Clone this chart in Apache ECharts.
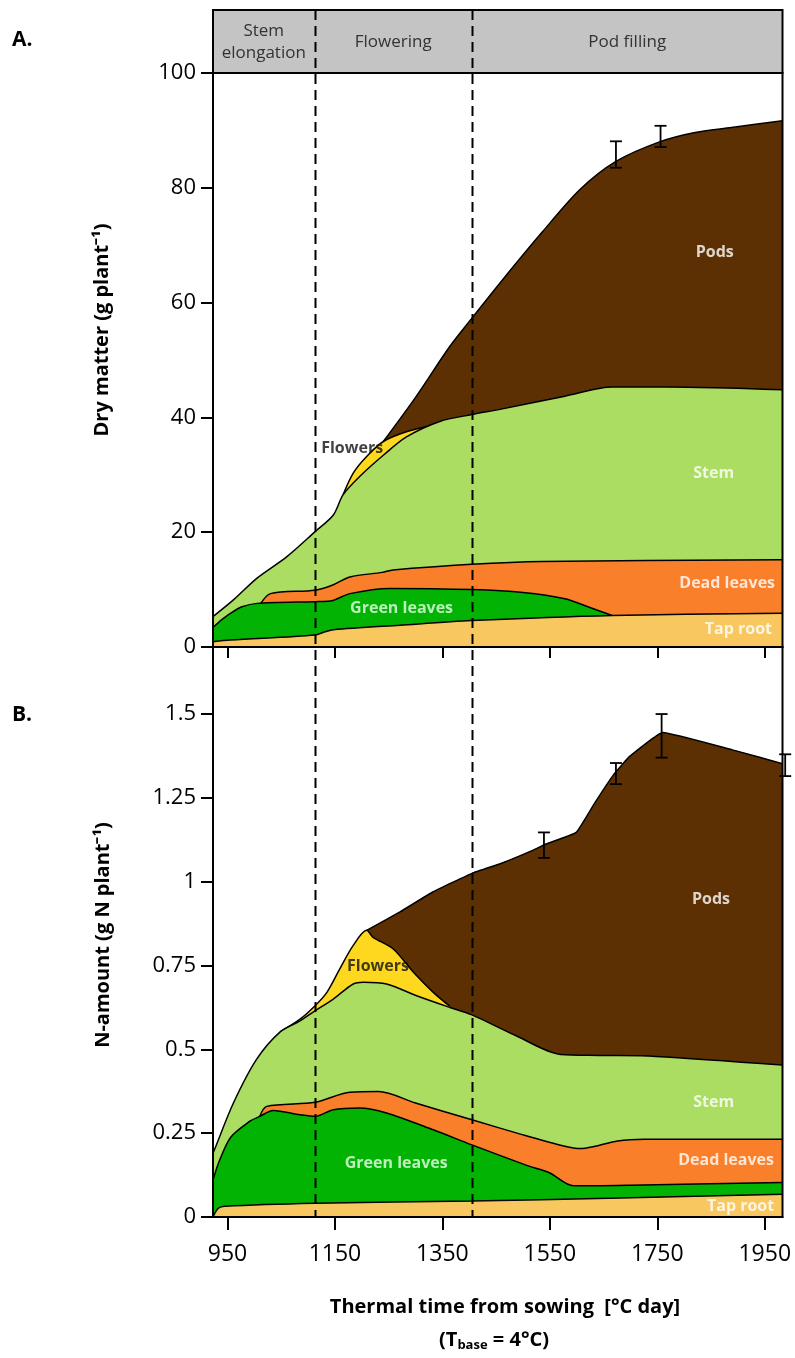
<!DOCTYPE html>
<html><head><meta charset="utf-8">
<script src="https://cdn.jsdelivr.net/npm/echarts@6/dist/echarts.min.js"></script>
<style>html,body{margin:0;padding:0;background:#fff}#c{width:795px;height:1358px}</style>
</head><body><div id="c"></div>
<script>
// ---------- DATA ----------
const xTicks = [950, 1150, 1350, 1550, 1750, 1950];
const xRange = [923, 1983];
const phaseBounds = [923, 1112, 1405, 1983];
const phaseNames = ['Stem\nelongation', 'Flowering', 'Pod filling'];
const yTicksA = [0, 20, 40, 60, 80, 100];
const yTicksB = [0, 0.25, 0.5, 0.75, 1, 1.25, 1.5];

// Panel A: dry matter, cumulative upper boundary of each layer (g plant-1)
const aTapRoot = [[923,0.9],[955,1.2],[1113,2.1],[1130,2.6],[1147,3.0],[1271,3.8],[1404,4.6],[1666,5.5],[1983,5.9]];
const aGreenLeaves = [[923,3.4],[940,4.8],[956,5.9],[977,7.0],[1005,7.6],[1113,7.9],[1141,8.0],[1178,9.3],[1252,10.2],[1405,10.0],[1500,9.5],[1578,8.4],[1627,6.8],[1666,5.5]];
const aDeadLeaves = [[1012,7.6],[1030,9.3],[1113,9.9],[1146,10.8],[1178,12.2],[1238,13.0],[1258,13.4],[1404,14.4],[1535,14.9],[1983,15.2]];
const aStem = [[923,5.3],[961,8.2],[1005,12.0],[1060,15.7],[1113,20.1],[1147,23.0],[1165,26.5],[1196,29.7],[1240,33.4],[1283,36.6],[1345,39.3],[1405,40.5],[1457,41.4],[1578,43.7],[1666,45.3],[1768,45.3],[1983,44.8]];
const aFlowers = [[1165,26.5],[1184,30.3],[1209,33.2],[1240,35.8],[1283,37.5],[1330,38.6]];
const aPods = [[1240,35.8],[1300,43.5],[1364,52.4],[1405,57.3],[1464,64.2],[1535,72.2],[1606,79.7],[1673,84.6],[1754,88.0],[1818,89.6],[1888,90.5],[1983,91.7]];
const aErrors = [[1673,83.5,88.1],[1756,87.1,90.8]];

// Panel B: N amount, cumulative upper boundary of each layer (g N plant-1)
const bTapRoot = [[923,0],[933,0.026],[945,0.032],[1112,0.041],[1405,0.048],[1660,0.056],[1983,0.068]];
const bGreenLeaves = [[923,0.11],[934,0.164],[956,0.238],[991,0.285],[1010,0.30],[1035,0.318],[1085,0.305],[1113,0.30],[1147,0.32],[1196,0.325],[1246,0.31],[1333,0.26],[1405,0.215],[1507,0.154],[1549,0.132],[1594,0.093],[1700,0.095],[1983,0.103]];
const bDeadLeaves = [[1010,0.30],[1023,0.33],[1113,0.342],[1178,0.372],[1231,0.374],[1300,0.34],[1405,0.29],[1500,0.245],[1578,0.211],[1606,0.204],[1634,0.211],[1676,0.227],[1726,0.232],[1983,0.232]];
const bStem = [[923,0.19],[927,0.206],[961,0.34],[1004,0.47],[1048,0.552],[1085,0.585],[1113,0.615],[1147,0.65],[1184,0.695],[1203,0.70],[1246,0.695],[1302,0.66],[1364,0.625],[1405,0.603],[1488,0.54],[1570,0.485],[1643,0.482],[1747,0.479],[1983,0.453]];
const bFlowers = [[1048,0.552],[1085,0.59],[1113,0.63],[1135,0.67],[1159,0.74],[1184,0.81],[1209,0.855],[1221,0.834],[1258,0.80],[1296,0.73],[1333,0.67],[1364,0.628]];
const bPods = [[1209,0.855],[1271,0.91],[1333,0.97],[1405,1.025],[1460,1.055],[1520,1.095],[1539,1.11],[1599,1.147],[1634,1.236],[1669,1.32],[1698,1.373],[1760,1.445],[1888,1.394],[1983,1.352]];
const bErrors = [[1539,1.071,1.147],[1673,1.291,1.354],[1758,1.37,1.50],[1988,1.315,1.38]];

// Layer names
const layerNames = ['Pods', 'Flowers', 'Stem', 'Dead leaves', 'Green leaves', 'Tap root'];

// ---------- LAYOUT / STYLE ----------
const colors = {
  'Pods': '#5d3003', 'Flowers': '#fdd81e', 'Stem': '#aadd62',
  'Dead leaves': '#f97f2a', 'Green leaves': '#03b303', 'Tap root': '#f9c75f'
};
const labelSpotsA = {
  'Pods': [1857, 68.8], 'Stem': [1855, 30.3], 'Dead leaves': [1880, 11.0],
  'Green leaves': [1274, 6.7], 'Tap root': [1901, 3.0], 'Flowers': [1182, 34.6]
};
const labelSpotsB = {
  'Pods': [1850, 0.947], 'Stem': [1855, 0.343], 'Dead leaves': [1878, 0.169],
  'Green leaves': [1264, 0.159], 'Tap root': [1905, 0.031], 'Flowers': [1230, 0.748]
};
const gridA = {left: 213, right: 12.5, top: 73, height: 574};
const gridB = {left: 213, right: 12.5, top: 647, height: 570};
const FONT = 'Open Sans';

const chart = echarts.init(document.getElementById('c'), null, {renderer: 'canvas'});

function areaSeries(name, data, idx, z, smooth) {
  return {
    type: 'line', name, xAxisIndex: idx, yAxisIndex: idx, data,
    symbol: 'none', smooth: smooth, z: z, silent: true,
    lineStyle: {color: '#000', width: 1.5},
    areaStyle: {color: colors[name], opacity: 1}
  };
}
function errSeries(data, idx) {
  return {
    type: 'custom', xAxisIndex: idx, yAxisIndex: idx, data, clip: false, z: 20, silent: true,
    encode: {x: 0, y: [1, 2]},
    renderItem(params, api) {
      const x = api.value(0);
      const p1 = api.coord([x, api.value(1)]), p2 = api.coord([x, api.value(2)]);
      const w = 6, st = {stroke: '#000', lineWidth: 1.8};
      return {type: 'group', children: [
        {type: 'line', shape: {x1: p1[0], y1: p1[1], x2: p2[0], y2: p2[1]}, style: st},
        {type: 'line', shape: {x1: p1[0]-w, y1: p1[1], x2: p1[0]+w, y2: p1[1]}, style: st},
        {type: 'line', shape: {x1: p2[0]-w, y1: p2[1], x2: p2[0]+w, y2: p2[1]}, style: st}
      ]};
    }
  };
}
function labelSeries(spots, idx) {
  return {
    type: 'scatter', xAxisIndex: idx, yAxisIndex: idx, symbolSize: 0, z: 30, silent: true,
    data: layerNames.map(n => ({
      value: spots[n],
      label: {show: true, position: 'inside', formatter: n,
        color: n === 'Flowers' ? '#111' : (n === 'Green leaves' ? '#eaffea' : '#fff'),
        fontFamily: FONT, fontWeight: 'bold', fontSize: 16}
    }))
  };
}

const layersA = {'Pods': aPods, 'Flowers': aFlowers, 'Stem': aStem, 'Dead leaves': aDeadLeaves, 'Green leaves': aGreenLeaves, 'Tap root': aTapRoot};
const layersB = {'Pods': bPods, 'Flowers': bFlowers, 'Stem': bStem, 'Dead leaves': bDeadLeaves, 'Green leaves': bGreenLeaves, 'Tap root': bTapRoot};

const series = [];
layerNames.forEach((n, i) => series.push(areaSeries(n, layersA[n], 0, 2 + i, 0.3)));
layerNames.forEach((n, i) => series.push(areaSeries(n, layersB[n], 1, 2 + i, n === 'Pods' ? 0.1 : 0.3)));
series.push(errSeries(aErrors, 0), errSeries(bErrors, 1));
series.push(labelSeries(labelSpotsA, 0), labelSeries(labelSpotsB, 1));

const plain = v => String(+(+v).toFixed(2));
const axisLineStyle = {show: true, lineStyle: {color: '#000', width: 2}};
const option = {
  animation: false,
  backgroundColor: '#fff',
  grid: [gridA, gridB],
  xAxis: [
    {type: 'value', gridIndex: 0, min: xRange[0], max: xRange[1], z: 40,
     axisLine: axisLineStyle, splitLine: {show: false},
     axisTick: {show: true, inside: false, length: 11, customValues: xTicks, lineStyle: {color: '#000', width: 2}},
     axisLabel: {show: false, customValues: xTicks, formatter: plain}},
    {type: 'value', gridIndex: 1, min: xRange[0], max: xRange[1], z: 40,
     axisLine: axisLineStyle, splitLine: {show: false},
     axisTick: {show: true, inside: false, length: 13, customValues: xTicks, lineStyle: {color: '#000', width: 2}},
     axisLabel: {show: true, customValues: xTicks, margin: 26, color: '#000', fontFamily: FONT, fontSize: 23, formatter: plain}}
  ],
  yAxis: [
    {type: 'value', gridIndex: 0, min: 0, max: 100, z: 40,
     axisLine: axisLineStyle, splitLine: {show: false},
     axisTick: {show: true, inside: false, length: 12, customValues: yTicksA, lineStyle: {color: '#000', width: 2}},
     axisLabel: {customValues: yTicksA, margin: 17, color: '#000', fontFamily: FONT, fontSize: 22, formatter: plain}},
    {type: 'value', gridIndex: 1, min: 0, max: 1.7, z: 40,
     axisLine: axisLineStyle, splitLine: {show: false},
     axisTick: {show: true, inside: false, length: 12, customValues: yTicksB, lineStyle: {color: '#000', width: 2}},
     axisLabel: {customValues: yTicksB, margin: 17, color: '#000', fontFamily: FONT, fontSize: 22, formatter: plain}}
  ],
  series
};
chart.setOption(option);

// ---------- Decorations computed through the axes ----------
const px = v => chart.convertToPixel({xAxisIndex: 0}, v);
const left = px(xRange[0]), right = px(xRange[1]);
const headerTop = 10, aTop = gridA.top, aBottom = gridA.top + gridA.height;
const bTop = gridB.top, bBottom = gridB.top + gridB.height;
const g = [];
g.push({type: 'rect', z: 50, shape: {x: left, y: headerTop, width: right - left, height: aTop - headerTop},
  style: {fill: '#c4c4c4', stroke: '#000', lineWidth: 2}});
for (let i = 0; i < phaseNames.length; i++) {
  const cx = px((phaseBounds[i] + phaseBounds[i + 1]) / 2);
  g.push({type: 'text', z: 60, x: cx, y: (headerTop + aTop) / 2 + 1,
    style: {text: phaseNames[i], fill: '#333', font: '17px "' + FONT + '"', align: 'center', verticalAlign: 'middle', lineHeight: 22}});
}
[[aTop, aBottom], [bTop, bBottom]].forEach(([t, b]) => {
  g.push({type: 'rect', z: 55, shape: {x: left, y: t, width: right - left, height: b - t},
    style: {fill: 'none', stroke: '#000', lineWidth: 2}});
});
[phaseBounds[1], phaseBounds[2]].forEach(v => {
  const x = Math.round(px(v)) + 0.5;
  g.push({type: 'line', z: 58, shape: {x1: x, y1: headerTop, x2: x, y2: bBottom},
    style: {stroke: '#000', lineWidth: 2, lineDash: [10, 6]}});
});
g.push({type: 'text', z: 60, x: 12, y: 40, style: {text: 'A.', fill: '#000', font: 'bold 21px "' + FONT + '"', verticalAlign: 'middle'}});
g.push({type: 'text', z: 60, x: 12, y: 715, style: {text: 'B.', fill: '#000', font: 'bold 21px "' + FONT + '"', verticalAlign: 'middle'}});
g.push({type: 'text', z: 60, x: 102, y: 330, rotation: Math.PI / 2,
  style: {text: 'Dry matter (g plant⁻¹)', fill: '#000', font: 'bold 20px "' + FONT + '"', align: 'center', verticalAlign: 'middle'}});
g.push({type: 'text', z: 60, x: 103, y: 935, rotation: Math.PI / 2,
  style: {text: 'N-amount (g N plant⁻¹)', fill: '#000', font: 'bold 20px "' + FONT + '"', align: 'center', verticalAlign: 'middle'}});
g.push({type: 'text', z: 60, x: 505, y: 1307,
  style: {text: 'Thermal time from sowing  [°C day]', fill: '#000', font: 'bold 20px "' + FONT + '"', align: 'center', verticalAlign: 'middle'}});
g.push({type: 'text', z: 60, x: 494, y: 1340,
  style: {text: '{a|(T}{s|base}{a| = 4°C)}', align: 'center', verticalAlign: 'middle',
    rich: {a: {fontFamily: FONT, fontWeight: 'bold', fontSize: 20, color: '#000'},
           s: {fontFamily: FONT, fontWeight: 'bold', fontSize: 13, color: '#000', padding: [10, 0, 0, 0]}}}});
chart.setOption({graphic: {elements: g}});
</script>
</body></html>
